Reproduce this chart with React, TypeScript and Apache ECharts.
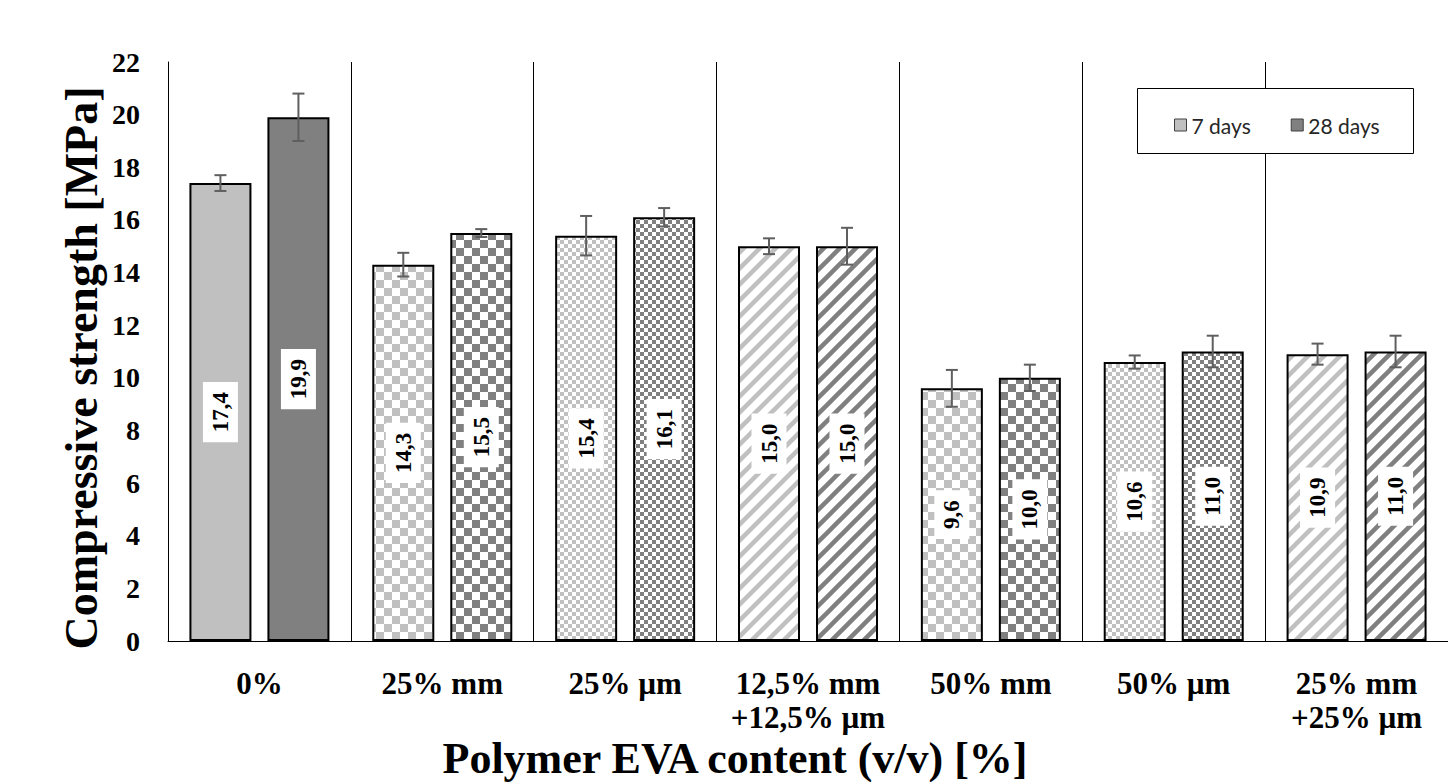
import React, { useEffect, useRef } from "react";
import * as echarts from "echarts";

const categories = ["0%", "25% mm", "25% µm", "12,5% mm\n+12,5% µm", "50% mm", "50% µm", "25% mm\n+25% µm"];
const days7 = [17.4, 14.3, 15.4, 15.0, 9.6, 10.6, 10.9];
const days28 = [19.9, 15.5, 16.1, 15.0, 10.0, 11.0, 11.0];
const err7 = [0.3, 0.45, 0.75, 0.3, 0.7, 0.25, 0.4];
const err28 = [0.9, 0.15, 0.35, 0.7, 0.5, 0.6, 0.6];
// pattern kind per category
const patternKinds = ["solid", "checkerLarge", "checkerSmall", "diag", "checkerLarge", "checkerSmall", "diag"];
const yTicks = [0, 2, 4, 6, 8, 10, 12, 14, 16, 18, 20, 22];

const LIGHT = "#c0c0c0";
const DARK = "#808080";
const SERIF = "'Liberation Serif', 'Times New Roman', serif";

function makePattern(kind: string, color: string): any {
  if (kind === "solid") return color;
  const c = document.createElement("canvas");
  const ctx = c.getContext("2d")!;
  if (kind === "checkerLarge" || kind === "checkerSmall") {
    const s = kind === "checkerLarge" ? 8 : 4;
    c.width = s * 2;
    c.height = s * 2;
    ctx.fillStyle = "#ffffff";
    ctx.fillRect(0, 0, s * 2, s * 2);
    ctx.fillStyle = color;
    ctx.fillRect(0, 0, s, s);
    ctx.fillRect(s, s, s, s);
  } else {
    const T = 16;
    c.width = T;
    c.height = T;
    ctx.fillStyle = "#ffffff";
    ctx.fillRect(0, 0, T, T);
    ctx.strokeStyle = color;
    ctx.lineWidth = 4.5;
    for (const o of [-T, 0, T]) {
      ctx.beginPath();
      ctx.moveTo(o - 2, T + 2);
      ctx.lineTo(o + T + 2, -2);
      ctx.stroke();
    }
  }
  return { image: c, repeat: "repeat" };
}

const BAR_W = 62;
const BAR_GAP = 16;

function errSeries(name: string, vals: number[], errs: number[], offset: number) {
  return {
    type: "custom",
    name,
    z: 5,
    silent: true,
    renderItem: (_p: any, api: any) => {
      const idx = api.value(0);
      const v = api.value(1);
      const e = api.value(2);
      const top = api.coord([idx, v + e]);
      const bot = api.coord([idx, v - e]);
      const x = top[0] + offset;
      const st = { stroke: "#5f5f5f", lineWidth: 2 };
      return {
        type: "group",
        children: [
          { type: "line", shape: { x1: x, y1: top[1], x2: x, y2: bot[1] }, style: st },
          { type: "line", shape: { x1: x - 6, y1: top[1], x2: x + 6, y2: top[1] }, style: st },
          { type: "line", shape: { x1: x - 6, y1: bot[1], x2: x + 6, y2: bot[1] }, style: st },
        ],
      };
    },
    data: vals.map((v, i) => [i, v, errs[i]]),
  };
}

export default function App() {
  const ref = useRef<HTMLDivElement>(null);
  useEffect(() => {
    if (!ref.current) return;
    const chart = echarts.init(ref.current, undefined, { renderer: "svg" });
    const label = {
      show: true,
      position: "inside",
      rotate: 90,
      formatter: (p: any) => Number(p.value).toFixed(1).replace(".", ","),
      fontFamily: SERIF,
      fontWeight: "bold",
      fontSize: 23,
      color: "#000",
      backgroundColor: "#ffffff",
      padding: [6, 10],
    };
    const barSeries = (name: string, vals: number[], color: string) => ({
      type: "bar",
      name,
      barWidth: BAR_W,
      barGap: `${(BAR_GAP / BAR_W) * 100}%`,
      itemStyle: { color, borderColor: "#000", borderWidth: 2 },
      label,
      z: 3,
      data: vals.map((v, i) => ({
        value: v,
        itemStyle: { color: makePattern(patternKinds[i], color) },
      })),
    });
    chart.setOption({
      animation: false,
      backgroundColor: "#ffffff",
      grid: { left: 168, right: 0, top: 62, bottom: 141 },
      legend: {
        data: ["7 days", "28 days"],
        left: 1169,
        top: 108,
        itemWidth: 12,
        itemHeight: 12,
        itemGap: 40,
        icon: "rect",
        z: 20,
        itemStyle: { borderColor: "#404040", borderWidth: 1 },
        textStyle: { fontFamily: "Lato, 'Open Sans', sans-serif", fontSize: 21, color: "#262626", lineHeight: 24 },
      },
      graphic: [
        {
          type: "rect",
          z: 10,
          shape: { x: 1137.5, y: 88.5, width: 276, height: 65 },
          style: { fill: "#ffffff", stroke: "#000000", lineWidth: 1 },
        },
        {
          type: "text",
          x: 81,
          y: 368,
          rotation: Math.PI / 2,
          style: {
            text: "Compressive strength [MPa]",
            fontFamily: SERIF,
            fontWeight: "bold",
            fontSize: 46,
            fill: "#000",
            align: "center",
            verticalAlign: "middle",
          },
        },
        {
          type: "text",
          x: 735,
          y: 758,
          style: {
            text: "Polymer EVA content (v/v) [%]",
            fontFamily: SERIF,
            fontWeight: "bold",
            fontSize: 44,
            fill: "#000",
            align: "center",
            verticalAlign: "middle",
          },
        },
      ],
      xAxis: {
        type: "category",
        data: categories,
        axisLine: { show: true, lineStyle: { color: "#000", width: 1 } },
        axisTick: { show: false },
        splitLine: { show: true, lineStyle: { color: "#000", width: 1 } },
        axisLabel: {
          margin: 25,
          fontFamily: SERIF,
          fontWeight: "bold",
          fontSize: 31,
          lineHeight: 34,
          color: "#000",
          interval: 0,
        },
      },
      yAxis: {
        type: "value",
        min: yTicks[0],
        max: yTicks[yTicks.length - 1],
        interval: 2,
        axisLine: { show: true, lineStyle: { color: "#000", width: 1 } },
        axisTick: { show: false },
        splitLine: { show: false },
        axisLabel: {
          margin: 28,
          fontFamily: SERIF,
          fontWeight: "bold",
          fontSize: 28,
          color: "#000",
        },
      },
      series: [
        barSeries("7 days", days7, LIGHT),
        barSeries("28 days", days28, DARK),
        errSeries("err7", days7, err7, -(BAR_W + BAR_GAP) / 2),
        errSeries("err28", days28, err28, (BAR_W + BAR_GAP) / 2),
      ],
    });
    return () => chart.dispose();
  }, []);
  return <div ref={ref} style={{ position: "absolute", left: 0, top: 0, width: 1448, height: 782 }} />;
}
